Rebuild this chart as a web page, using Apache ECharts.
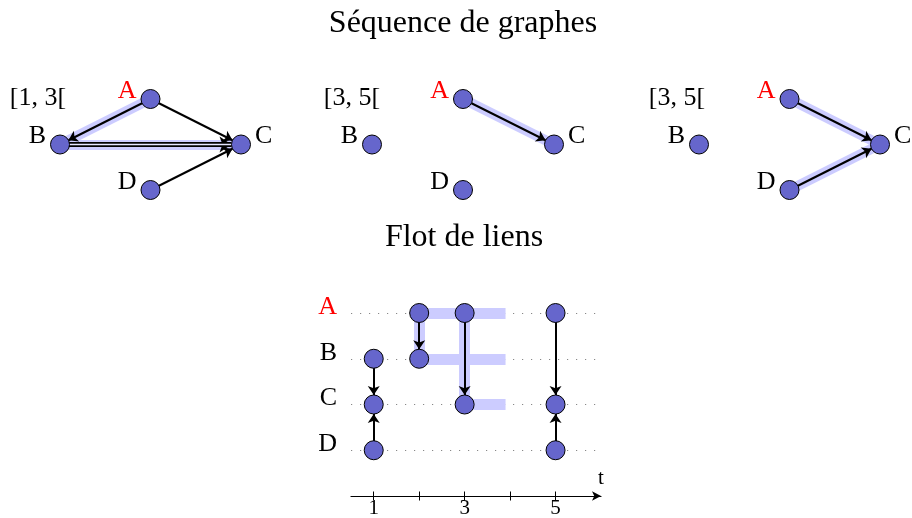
<!DOCTYPE html>
<html><head><meta charset="utf-8">
<script src="https://cdn.jsdelivr.net/npm/echarts@6/dist/echarts.min.js"></script>
<style>html,body{margin:0;padding:0;background:#fff}#c{width:912px;height:518px}</style>
</head><body><div id="c"></div>
<script>
// ---- data ----
const nodeNames = ['A', 'B', 'C', 'D'];
const nodeX = [1, 0, 2, 1];
const nodeY = [1, 0, 0, -1];
const intervalLabels = ['[1, 3[', '[3, 5[', '[3, 5['];
const snapshotEdges = [
  [['A', 'B', 1], ['A', 'C', 1], ['B', 'C', 2], ['D', 'C', 1]],
  [['A', 'C', 1]],
  [['A', 'C', 1], ['D', 'C', 1]]
];
const snapshotHighlights = [
  [['A', 'B'], ['B', 'C']],
  [['A', 'C']],
  [['A', 'C'], ['D', 'C']]
];
const timeTicks = [1, 2, 3, 4, 5];
const timeLabels = [1, 3, 5];
const rowNames = ['A', 'B', 'C', 'D'];
const rowLevels = [4, 3, 2, 1];
const streamNodeTimes = [1, 1, 1, 2, 2, 3, 3, 5, 5, 5];
const streamNodeRows = ['B', 'C', 'D', 'A', 'B', 'A', 'C', 'A', 'C', 'D'];
const streamLinkTimes = [1, 1, 2, 3, 5, 5];
const streamLinkFrom = ['B', 'D', 'A', 'A', 'A', 'D'];
const streamLinkTo = ['C', 'C', 'B', 'C', 'C', 'C'];
const streamBands = [
  [2, 'A', 2, 'B'], [2, 'A', 3.9, 'A'], [2, 'B', 3.9, 'B'], [3, 'A', 3, 'C'], [3, 'C', 3.9, 'C']
];

// ---- styles ----
const FONT = '"Liberation Serif", "DejaVu Serif", serif';
const NODE_FILL = '#6666cc';
const BAND = '#ccccff';
const RED = '#ff0000';
const NODE_SIZE = 19;
const EDGE_W = 2;

const pos = n => { const i = nodeNames.indexOf(n); return [nodeX[i], nodeY[i]]; };
const lvl = r => rowLevels[rowNames.indexOf(r)];

const grids = [
  { left: 60, top: 99, width: 181, height: 91 },
  { left: 372, top: 99, width: 182, height: 91 },
  { left: 699, top: 99, width: 181, height: 91 },
  { left: 351, top: 313, width: 250, height: 183 }
].map(g => Object.assign(g, { outerBoundsMode: 'none', containLabel: false }));
const xAxes = [], yAxes = [], series = [];
for (let g = 0; g < 3; g++) {
  xAxes.push({ gridIndex: g, type: 'value', min: 0, max: 2, show: false });
  yAxes.push({ gridIndex: g, type: 'value', min: -1, max: 1, show: false });
}
// bottom axes
xAxes.push({
  gridIndex: 3, type: 'value', min: 0.5, max: 6,
  axisLine: { show: true, lineStyle: { color: '#000', width: 1.2 }, symbol: ['none', 'arrow'], symbolSize: [7, 9] },
  axisTick: { show: true, customValues: timeTicks, length: 4.5, lineStyle: { color: '#000', width: 1 } },
  axisLabel: { customValues: timeLabels, color: '#000', fontFamily: FONT, fontSize: 21, margin: 2 },
  splitLine: { show: false },
  name: 't', nameLocation: 'end', nameGap: 0,
  nameTextStyle: { fontFamily: FONT, fontSize: 21, color: '#000', align: 'center', verticalAlign: 'bottom', padding: [0, 0, 7, 0] }
});
xAxes.push({
  gridIndex: 3, type: 'value', min: 0.5, max: 6, position: 'bottom',
  axisLine: { show: false },
  axisTick: { show: true, inside: true, customValues: timeTicks, length: 4.5, lineStyle: { color: '#000', width: 1 } },
  axisLabel: { show: false }, splitLine: { show: false }
});
yAxes.push({
  gridIndex: 3, type: 'value', min: 0, max: 4, interval: 1,
  axisLine: { show: false }, axisTick: { show: false },
  axisLabel: {
    margin: 14, fontFamily: FONT, fontSize: 26, color: '#000', padding: [0, 0, 12, 0],
    formatter: v => { const i = rowLevels.indexOf(v); if (i < 0) return ''; return i === 0 ? '{r|' + rowNames[i] + '}' : rowNames[i]; },
    rich: { r: { color: RED, fontFamily: FONT, fontSize: 26 } }
  },
  splitLine: { show: true, lineStyle: { color: '#888', width: 1, type: [1.2, 7.8] } }
});

for (let g = 0; g < 3; g++) {
  series.push({
    type: 'lines', coordinateSystem: 'cartesian2d', xAxisIndex: g, yAxisIndex: g, z: 1, silent: true,
    lineStyle: { color: BAND, width: 10, opacity: 1 },
    data: snapshotHighlights[g].map(([a, b]) => ({ coords: [pos(a), pos(b)] }))
  });
  series.push({
    type: 'graph', layout: 'none', coordinateSystem: 'cartesian2d', xAxisIndex: g, yAxisIndex: g, z: 2, silent: true,
    symbolSize: NODE_SIZE, itemStyle: { opacity: 0 }, label: { show: false },
    edgeSymbol: ['none', 'arrow'], edgeSymbolSize: 9,
    lineStyle: { color: '#000', width: EDGE_W, opacity: 1, curveness: 0 },
    data: nodeNames.map(n => ({ name: n, value: pos(n) })),
    links: snapshotEdges[g].map(([a, b, k]) => k > 1
      ? { source: a, target: b, symbolSize: 12, lineStyle: { width: 5 } }
      : { source: a, target: b })
  });
  const doubles = snapshotEdges[g].filter(e => e[2] > 1);
  if (doubles.length) {
    series.push({
      type: 'lines', coordinateSystem: 'cartesian2d', xAxisIndex: g, yAxisIndex: g, z: 3, silent: true,
      lineStyle: { color: '#e6e6ff', width: 1.4, opacity: 1 },
      data: doubles.map(([a, b]) => ({ coords: [pos(a), pos(b)] }))
    });
  }
  series.push({
    type: 'scatter', xAxisIndex: g, yAxisIndex: g, z: 4, silent: true,
    symbolSize: NODE_SIZE,
    itemStyle: { color: NODE_FILL, borderColor: '#000', borderWidth: 1, opacity: 1 },
    data: nodeNames.map(n => ({
      name: n, value: pos(n),
      label: {
        show: true, formatter: n, position: pos(n)[0] > 1.5 ? 'right' : 'left', distance: 4, offset: [0, -8],
        fontFamily: FONT, fontSize: 26, color: n === 'A' ? RED : '#000'
      }
    }))
  });
}

// bottom link stream
series.push({
  type: 'lines', coordinateSystem: 'cartesian2d', xAxisIndex: 3, yAxisIndex: 3, z: 1, silent: true,
  lineStyle: { color: BAND, width: 11, opacity: 1 },
  data: streamBands.map(([t1, r1, t2, r2]) => ({ coords: [[t1, lvl(r1)], [t2, lvl(r2)]] }))
});
series.push({
  type: 'graph', layout: 'none', coordinateSystem: 'cartesian2d', xAxisIndex: 3, yAxisIndex: 3, z: 2, silent: true,
  symbolSize: NODE_SIZE, itemStyle: { opacity: 0 }, label: { show: false },
  edgeSymbol: ['none', 'arrow'], edgeSymbolSize: 9,
  lineStyle: { color: '#000', width: EDGE_W, opacity: 1, curveness: 0 },
  data: streamNodeTimes.map((t, i) => ({ name: streamNodeRows[i] + t, value: [t, lvl(streamNodeRows[i])] })),
  links: streamLinkTimes.map((t, i) => ({ source: streamLinkFrom[i] + t, target: streamLinkTo[i] + t }))
});
series.push({
  type: 'scatter', xAxisIndex: 3, yAxisIndex: 3, z: 4, silent: true,
  symbolSize: NODE_SIZE,
  itemStyle: { color: NODE_FILL, borderColor: '#000', borderWidth: 1, opacity: 1 },
  data: streamNodeTimes.map((t, i) => [t, lvl(streamNodeRows[i])])
});

const titleStyle = { fontFamily: FONT, fontSize: 32, fontWeight: 'normal', color: '#000' };
const titles = [
  { text: 'Séquence de graphes', left: 463, top: 8, textAlign: 'center', padding: 0, textStyle: titleStyle },
  { text: 'Flot de liens', left: 464, top: 222, textAlign: 'center', padding: 0, textStyle: titleStyle }
];
const intervalX = [38, 352, 677];
intervalLabels.forEach((s, i) => titles.push({
  text: s, left: intervalX[i], top: 85, textAlign: 'center', padding: 0,
  textStyle: { fontFamily: FONT, fontSize: 26, fontWeight: 'normal', color: '#000' }
}));

const chart = echarts.init(document.getElementById('c'), null, { renderer: 'canvas' });
chart.setOption({
  animation: false,
  backgroundColor: '#fff',
  title: titles,
  grid: grids,
  xAxis: xAxes,
  yAxis: yAxes,
  series: series
});
</script></body></html>
